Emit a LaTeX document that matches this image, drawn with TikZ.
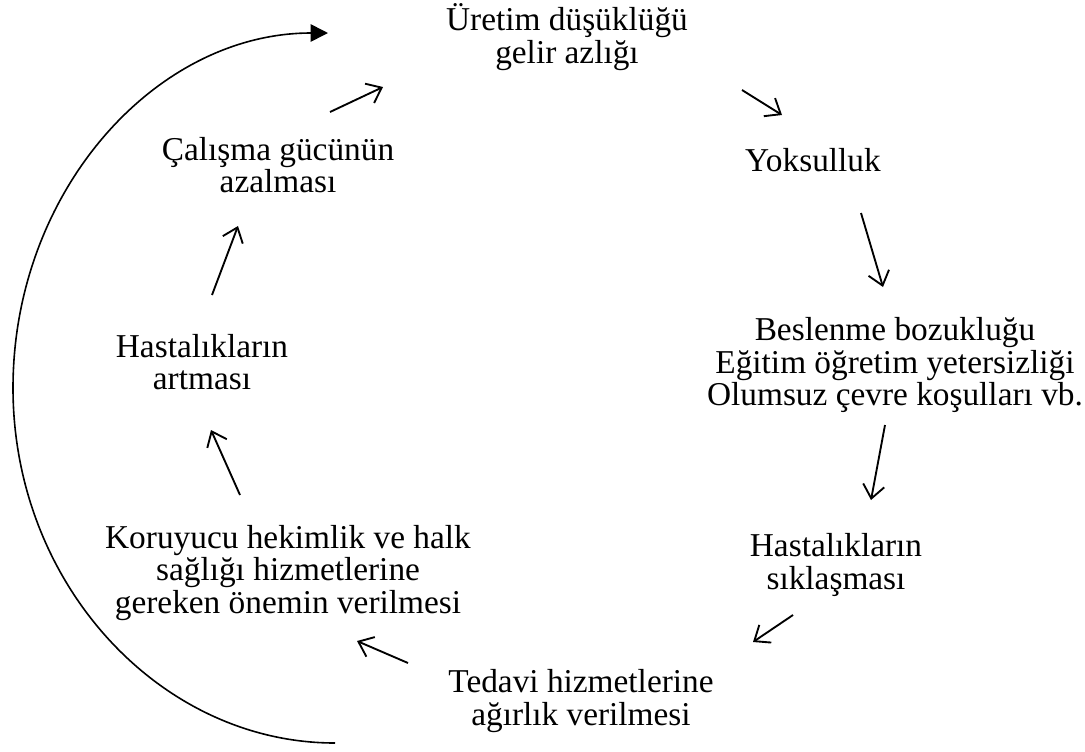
\documentclass[tikz,border=0pt]{standalone}
\usepackage{fontspec}
\setmainfont{Liberation Serif}
\usetikzlibrary{arrows.meta}
\begin{document}
\begin{tikzpicture}[x=0.75pt,y=-0.75pt,
  lbl/.style={align=center, font=\fontsize{25}{24.5}\selectfont, inner sep=0pt},
  flow/.style={line width=1.4pt, -{Straight Barb[length=10pt,width=16pt,line width=1.4pt]}},
  loop/.style={line width=1.2pt, -{Triangle[length=13pt,width=13pt]}}]
\useasboundingbox (0,0) rectangle (1085,751);

% cycle stages
\node[lbl] (uretim)   at (567,37)  {Üretim düşüklüğü\\gelir azlığı};
\node[lbl] (yoksul)   at (813,160) {Yoksulluk};
\node[lbl] (beslenme) at (895,365) {Beslenme bozukluğu\\Eğitim öğretim yetersizliği\\Olumsuz çevre koşulları vb.};
\node[lbl] (siklas)   at (836,565) {Hastalıkların\\sıklaşması};
\node[lbl] (tedavi)   at (581,701) {Tedavi hizmetlerine\\ağırlık verilmesi};
\node[lbl] (koruyucu) at (288,573) {Koruyucu hekimlik ve halk\\sağlığı hizmetlerine\\gereken önemin verilmesi};
\node[lbl] (artmasi)  at (202,362) {Hastalıkların\\artması};
\node[lbl] (calisma)  at (278,165) {Çalışma gücünün\\azalması};

% short arrows between stages
\coordinate (a1s) at (330,112); \coordinate (a1e) at (383,87);
\coordinate (a2s) at (742,90);  \coordinate (a2e) at (782,115);
\coordinate (a3s) at (861,213); \coordinate (a3e) at (883,287);
\coordinate (a4s) at (885,425); \coordinate (a4e) at (871,500);
\coordinate (a5s) at (793,615); \coordinate (a5e) at (753,642);
\coordinate (a6s) at (408,663); \coordinate (a6e) at (357,641);
\coordinate (a7s) at (240,495); \coordinate (a7e) at (211,430);
\coordinate (a8s) at (212,295); \coordinate (a8e) at (238,226);
\foreach \i in {1,...,8} \draw[flow] (a\i s) -- (a\i e);

% large return loop on the left
\coordinate (loopA) at (335,743);
\coordinate (loopL) at (13,388);
\coordinate (loopB) at (328,33);
\draw[loop] (loopA) .. controls (160,743) and (13,584) .. (loopL)
                    .. controls (13,192) and (155,33) .. (loopB);
\end{tikzpicture}
\end{document}
